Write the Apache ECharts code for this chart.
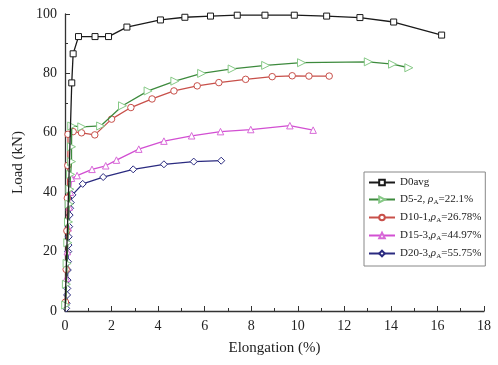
<!DOCTYPE html>
<html><head><meta charset="utf-8">
<script src="https://cdn.jsdelivr.net/npm/echarts@6/dist/echarts.min.js"></script>
<style>html,body{margin:0;padding:0;background:#fff}#c{width:498px;height:365px}</style>
</head><body><div id="c"></div>
<script>
const xTicks = [0, 2, 4, 6, 8, 10, 12, 14, 16, 18];
const yTicks = [0, 20, 40, 60, 80, 100];
const seriesNames = ['D0avg', 'D5-2', 'D10-1', 'D15-3', 'D20-3'];
const legendRho = ['', '22.1%', '26.78%', '44.97%', '55.75%'];

const d0X = [0, 0.29, 0.35, 0.58, 1.29, 1.87, 2.66, 4.10, 5.15, 6.25, 7.40, 8.59, 9.85, 11.24, 12.67, 14.12, 16.18];
const d0Y = [0, 76.8, 86.6, 92.4, 92.4, 92.4, 95.6, 98.0, 98.9, 99.3, 99.6, 99.6, 99.6, 99.3, 98.8, 97.3, 92.9];

const d5X = [0.03, 0.06, 0.09, 0.12, 0.15, 0.18, 0.21, 0.24, 0.28, 0.28, 0.29, 0.72, 1.53, 2.47, 3.57, 4.72, 5.87, 7.18, 8.62, 10.16, 13.03, 14.07, 14.77];
const d5Y = [2, 9, 16, 23, 30, 36, 41, 46, 50.3, 55.3, 62.3, 62.0, 62.3, 69.1, 74.1, 77.4, 80.0, 81.5, 82.7, 83.6, 83.9, 83.1, 81.9];

const d10X = [0.02, 0.05, 0.08, 0.1, 0.12, 0.13, 0.35, 0.71, 1.28, 2.00, 2.83, 3.74, 4.68, 5.68, 6.61, 7.76, 8.90, 9.76, 10.48, 11.35];
const d10Y = [3, 14, 27, 38, 49, 59.5, 60.4, 60.0, 59.3, 64.6, 68.5, 71.4, 74.1, 75.8, 76.9, 78.0, 78.9, 79.2, 79.1, 79.1];

const d15X = [0.03, 0.06, 0.1, 0.14, 0.18, 0.23, 0.28, 0.52, 1.16, 1.75, 2.21, 3.17, 4.25, 5.44, 6.68, 7.98, 9.66, 10.66];
const d15Y = [3, 11, 20, 28, 35, 40, 44.7, 45.6, 47.7, 48.9, 50.8, 54.5, 57.2, 59.0, 60.4, 61.1, 62.4, 60.9];

const d20X = [0.05, 0.07, 0.09, 0.1, 0.11, 0.12, 0.13, 0.14, 0.15, 0.16, 0.18, 0.2, 0.22, 0.25, 0.32, 0.76, 1.64, 2.93, 4.25, 5.53, 6.71];
const d20Y = [0.9, 2.6, 5.4, 7.6, 10.4, 13.8, 16.6, 20.0, 22.2, 25.0, 28.4, 32.3, 34.6, 36.5, 39.1, 42.8, 45.1, 47.7, 49.4, 50.3, 50.6];

const pair = (xs, ys) => xs.map((x, i) => [x, ys[i]]);

const FONT = 'Liberation Serif';
const lineColors = ['#1a1a1a', '#3d8a3d', '#c8504a', '#d24fd2', '#2b2b80'];
const markColors = ['#1a1a1a', '#86c986', '#c8504a', '#d86ad8', '#2b2b80'];
const symbols = ['rect', 'triangle', 'circle', 'triangle', 'diamond'];
const rotations = [0, -90, 0, 0, 0];
const sizes = [6, 8, 6.5, 6.5, 7];
const datas = [pair(d0X, d0Y), pair(d5X, d5Y), pair(d10X, d10Y), pair(d15X, d15Y), pair(d20X, d20Y)];
const zs = [5, 4, 3, 2, 1];

const series = seriesNames.map((n, i) => ({
  name: n, type: 'line', data: datas[i], symbol: symbols[i], symbolSize: sizes[i],
  symbolRotate: rotations[i], showAllSymbol: true, z: zs[i],
  lineStyle: { color: lineColors[i], width: 1.3 },
  itemStyle: { color: '#fff', borderColor: markColors[i], borderWidth: 1 }
}));
// origin point of D0avg hidden under the marker pile
series[0].data[0] = { value: datas[0][0], symbol: 'none' };

const chart = echarts.init(document.getElementById('c'));
chart.setOption({
  animation: false,
  backgroundColor: '#fff',
  grid: { left: 65, right: 14, top: 14, bottom: 54 },
  xAxis: {
    type: 'value', min: xTicks[0], max: xTicks[xTicks.length - 1], interval: 2,
    name: 'Elongation (%)', nameLocation: 'middle', nameGap: 30,
    nameTextStyle: { fontFamily: FONT, fontSize: 15, color: '#222' },
    axisLine: { show: true, lineStyle: { color: '#333', width: 1.3 } },
    axisTick: { show: true, inside: true, length: 5, lineStyle: { color: '#333' } },
    minorTick: { show: true, splitNumber: 2, length: 3, lineStyle: { color: '#333' } },
    splitLine: { show: false },
    axisLabel: { fontFamily: FONT, fontSize: 14, color: '#222', margin: 8 }
  },
  yAxis: {
    type: 'value', min: yTicks[0], max: yTicks[yTicks.length - 1], interval: 20,
    name: 'Load (kN)', nameLocation: 'middle', nameGap: 37,
    nameTextStyle: { fontFamily: FONT, fontSize: 15, color: '#222' },
    axisLine: { show: true, lineStyle: { color: '#333', width: 1.3 } },
    axisTick: { show: true, inside: true, length: 5, lineStyle: { color: '#333' } },
    minorTick: { show: true, splitNumber: 2, length: 3, lineStyle: { color: '#333' } },
    splitLine: { show: false },
    axisLabel: { fontFamily: FONT, fontSize: 14, color: '#222', margin: 8 }
  },
  legend: {
    orient: 'vertical', left: 364, top: 172, width: 118,
    itemWidth: 26, itemHeight: 7, itemGap: 6,
    padding: [5, 4, 6, 4],
    borderColor: '#888', borderWidth: 1, backgroundColor: '#fff',
    data: seriesNames,
    formatter: function (name) {
      const i = seriesNames.indexOf(name);
      if (i === 0) return name;
      const sep = i === 1 ? ', ' : ',';
      return name + sep + '{r|ρ}{s|A}=' + legendRho[i];
    },
    textStyle: {
      fontFamily: FONT, fontSize: 11, color: '#222',
      rich: {
        r: { fontFamily: FONT, fontSize: 11, fontStyle: 'italic', color: '#222' },
        s: { fontFamily: FONT, fontSize: 7, color: '#222', verticalAlign: 'bottom', padding: [6, 0, 0, 0] }
      }
    }
  },
  series: series
});
</script></body></html>
